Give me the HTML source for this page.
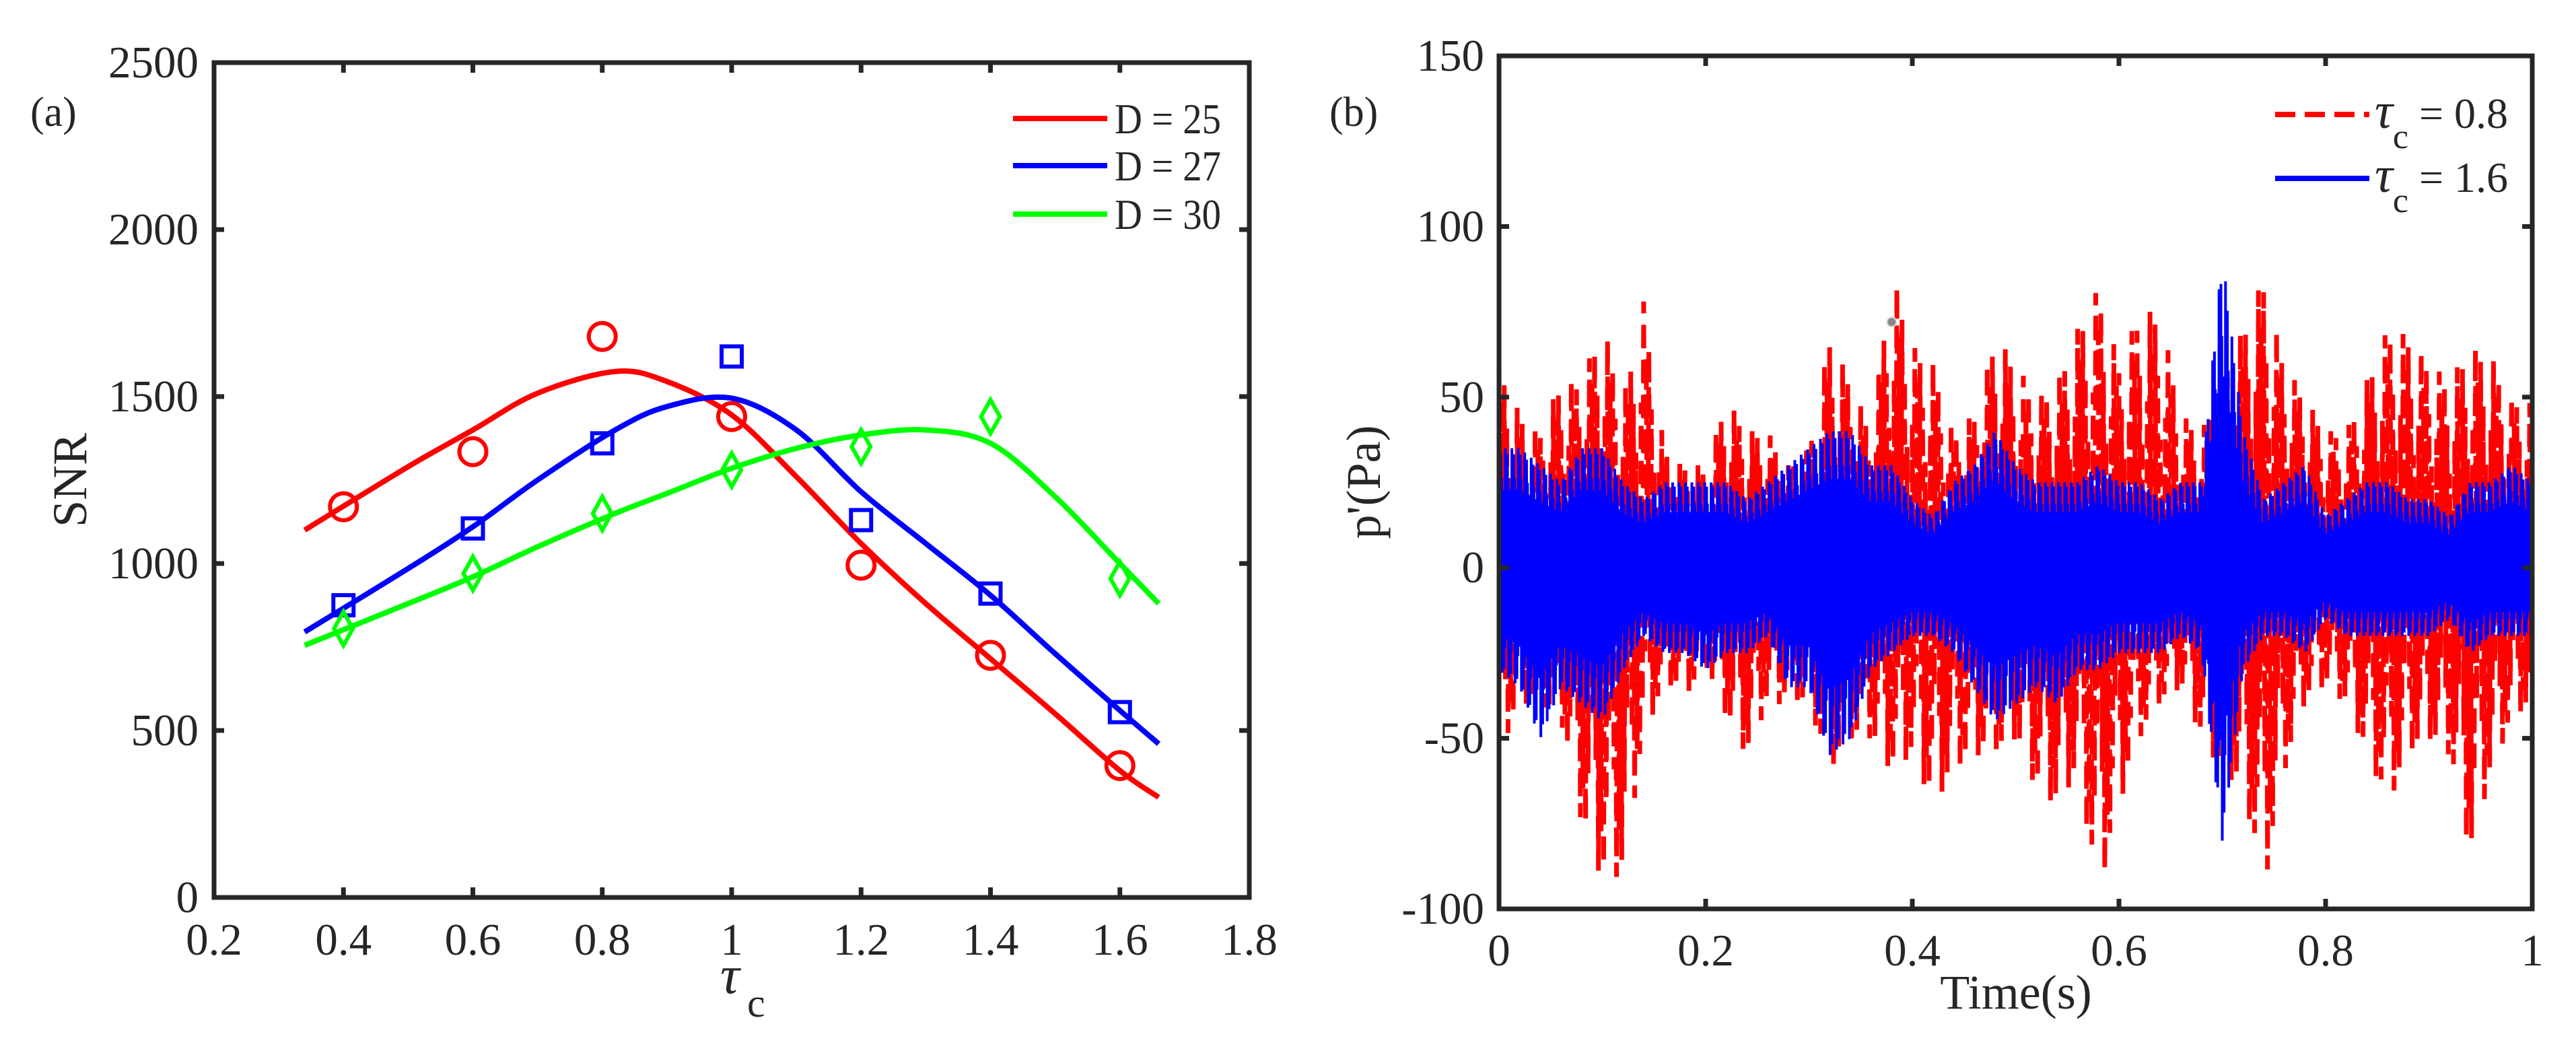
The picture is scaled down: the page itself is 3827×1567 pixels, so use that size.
<!DOCTYPE html>
<html><head><meta charset="utf-8"><style>
html,body{margin:0;padding:0;background:#fff;}
svg{display:block;}
text{font-family:"Liberation Serif",serif;fill:#262626;}
</style></head><body>
<svg id="fig" width="3827" height="1567" viewBox="0 0 3827 1567" xmlns="http://www.w3.org/2000/svg">
<rect width="3827" height="1567" fill="#fff"/>
<g id="pa"></g>
<g id="pb"></g>
</svg>
<script>
// ---------- Panel (a) data ----------
const aXTicks=[0.2,0.4,0.6,0.8,1,1.2,1.4,1.6,1.8];
const aXTickLabels=["0.2","0.4","0.6","0.8","1","1.2","1.4","1.6","1.8"];
const aYTicks=[0,500,1000,1500,2000,2500];
const aYTickLabels=["0","500","1000","1500","2000","2500"];
const markerX=[0.4,0.6,0.8,1.0,1.2,1.4,1.6];
const d25Points=[1170,1335,1680,1440,995,725,395];
const d27Points=[875,1105,1360,1620,1130,910,555];
const d30Points=[805,970,1150,1280,1350,1440,955];
const curveX=[0.34,0.5,0.6,0.7,0.82,0.9,1.0,1.1,1.2,1.3,1.4,1.5,1.6,1.66];
const d25Curve=[1100,1290,1400,1510,1575,1545,1445,1260,1060,880,715,550,380,300];
const d27Curve=[795,985,1110,1250,1400,1470,1495,1400,1215,1060,905,730,560,460];
const d30Curve=[755,880,960,1050,1150,1210,1285,1345,1385,1400,1360,1200,1000,880];
const legendA=["D = 25","D = 27","D = 30"];
// ---------- Panel (b) data ----------
const bXTicks=[0,0.2,0.4,0.6,0.8,1];
const bXTickLabels=["0","0.2","0.4","0.6","0.8","1"];
const bYTicks=[-100,-50,0,50,100,150];
const bYTickLabels=["-100","-50","0","50","100","150"];
const binT=[0,0.02,0.04,0.06,0.08,0.1,0.12,0.14,0.16,0.18,0.2,0.22,0.24,0.26,0.28,0.3,0.32,0.34,0.36,0.38,0.4,0.42,0.44,0.46,0.48,0.5,0.52,0.54,0.56,0.58,0.6,0.62,0.64,0.66,0.68,0.7,0.72,0.74,0.76,0.78,0.8,0.82,0.84,0.86,0.88,0.9,0.92,0.94,0.96,0.98,1.0];
const redUpper=[60,45,40,55,55,72,50,78,35,30,30,50,40,40,30,35,68,55,40,88,65,60,40,45,68,60,50,55,70,82,60,75,75,45,40,55,70,85,60,50,40,40,55,70,68,60,55,65,62,50,48];
const redLower=[-55,-40,-40,-45,-75,-92,-90,-50,-35,-38,-30,-45,-55,-40,-40,-40,-60,-50,-50,-60,-55,-70,-60,-55,-55,-50,-65,-70,-60,-97,-70,-50,-40,-35,-50,-60,-65,-95,-60,-40,-35,-40,-55,-70,-55,-50,-55,-85,-60,-45,-40];
const blueUpper=[35,35,30,25,35,35,25,20,25,25,25,25,20,25,30,35,40,40,30,30,20,15,25,30,40,30,25,25,25,30,25,25,20,25,25,92,40,20,25,30,15,20,25,25,20,20,15,25,25,30,25];
const blueLower=[-30,-35,-50,-35,-40,-45,-30,-20,-25,-25,-30,-25,-25,-20,-35,-35,-55,-50,-30,-25,-20,-20,-25,-35,-45,-40,-35,-40,-30,-30,-25,-25,-25,-20,-25,-80,-30,-20,-20,-25,-15,-20,-20,-20,-20,-20,-15,-25,-20,-20,-20];
const legendB=["0.8","1.6"];

const NS="http://www.w3.org/2000/svg";
function mk(parent,tag,attrs){const e=document.createElementNS(NS,tag);for(const k in attrs)e.setAttribute(k,attrs[k]);parent.appendChild(e);return e;}
function txt(parent,x,y,s,size,anchor){const t=mk(parent,'text',{x:x,y:y,'font-size':size,'text-anchor':anchor||'middle'});t.textContent=s;return t;}
function smooth(pts){let d=`M${pts[0][0]},${pts[0][1]}`;for(let i=0;i<pts.length-1;i++){const p0=pts[Math.max(0,i-1)],p1=pts[i],p2=pts[i+1],p3=pts[Math.min(pts.length-1,i+2)];const c1x=p1[0]+(p2[0]-p0[0])/6,c1y=p1[1]+(p2[1]-p0[1])/6,c2x=p2[0]-(p3[0]-p1[0])/6,c2y=p2[1]-(p3[1]-p1[1])/6;d+=` C${c1x},${c1y} ${c2x},${c2y} ${p2[0]},${p2[1]}`;}return d;}
const AX='#262626';

// ===== Panel A =====
const pa=document.getElementById('pa');
const aL=318,aR=1856,aT=93,aB=1333;
const ax=v=>aL+(v-0.2)/1.6*(aR-aL);
const ay=v=>aB-v/2500*(aB-aT);
const colors=['#ff0000','#0000ff','#00ff00'];
const curves=[d25Curve,d27Curve,d30Curve];
const pts=[d25Points,d27Points,d30Points];
curves.forEach((c,i)=>{
  const p=mk(pa,'path',{d:smooth(curveX.map((x,j)=>[ax(x),ay(c[j])])),fill:'none',stroke:colors[i],'stroke-width':8});
  
  
});
pts.forEach((arr,i)=>{
  arr.forEach((v,j)=>{
    const cx=ax(markerX[j]),cy=ay(v);let m;
    if(i===0) m=mk(pa,'circle',{cx:cx,cy:cy,r:20,fill:'none',stroke:colors[0],'stroke-width':6});
    else if(i===1) m=mk(pa,'rect',{x:cx-15,y:cy-15,width:30,height:30,fill:'none',stroke:colors[1],'stroke-width':6});
    else m=mk(pa,'path',{d:`M${cx},${cy-25} L${cx+14},${cy} L${cx},${cy+25} L${cx-14},${cy} Z`,fill:'none',stroke:colors[2],'stroke-width':6});
    
    
  });
});
mk(pa,'rect',{x:aL,y:aT,width:aR-aL,height:aB-aT,fill:'none',stroke:AX,'stroke-width':7,});
aXTicks.forEach((v,i)=>{const x=ax(v);
  mk(pa,'line',{x1:x,y1:aB,x2:x,y2:aB-15,stroke:AX,'stroke-width':7});
  mk(pa,'line',{x1:x,y1:aT,x2:x,y2:aT+15,stroke:AX,'stroke-width':7});
  const t=txt(pa,x,1418,aXTickLabels[i],67);
  
  
});
aYTicks.forEach((v,i)=>{const y=ay(v);
  mk(pa,'line',{x1:aL,y1:y,x2:aL+15,y2:y,stroke:AX,'stroke-width':7});
  mk(pa,'line',{x1:aR,y1:y,x2:aR-15,y2:y,stroke:AX,'stroke-width':7});
  const t=txt(pa,295,y+22,aYTickLabels[i],67,'end');
  
  
});
[176,246,318].forEach((y,i)=>{
  mk(pa,'line',{x1:1505,y1:y,x2:1645,y2:y,stroke:colors[i],'stroke-width':8,});
  const t=mk(pa,'text',{x:1656,y:y+22,'font-size':64,textLength:158,lengthAdjust:'spacingAndGlyphs'});
  t.textContent=legendA[i];
  
  
});
txt(pa,45,187,'(a)',62,'start');
const ylab=txt(pa,0,0,'SNR',72);ylab.setAttribute('transform','translate(128,713) rotate(-90)');

const xl=mk(pa,'text',{x:1070,y:1475,'font-size':80,'font-style':'italic',});xl.textContent='τ';
const xs=mk(pa,'text',{x:1110,y:1510,'font-size':60,});xs.textContent='c';

// ===== Panel B =====
const pb=document.getElementById('pb');
const bL=2227,bR=3762,bT=83,bB=1350;
const bx=v=>bL+v*(bR-bL);
const by=v=>bB-(v+100)/250*(bB-bT);
const pattern=[1,0.5,0.85,0.3,0.95,0.65,0.75];
function signal(up,lo,perBin){
  let d='';let k=0;
  for(let i=0;i<binT.length-1;i++){
    for(let s=0;s<perBin;s++){
      const f=s/perBin;const t=binT[i]+f*(binT[i+1]-binT[i]);
      const u=up[i]+(up[i+1]-up[i])*f, l=lo[i]+(lo[i+1]-lo[i])*f;
      const a=pattern[k%pattern.length];
      const v=(k%2===0)?u*a:l*a;
      d+=(d?' L':'M')+bx(t).toFixed(1)+','+by(v).toFixed(1);k++;
    }
  }
  return d;
}
const clip=mk(pb,'clipPath',{id:'bclip'});mk(clip,'rect',{x:bL,y:bT,width:bR-bL,height:bB-bT});
const red=mk(pb,'path',{d:signal(redUpper,redLower,16),fill:'none',stroke:'#ff0000','stroke-width':7,'stroke-dasharray':'34 18','clip-path':'url(#bclip)'});


const blue=mk(pb,'path',{d:signal(blueUpper,blueLower,45),fill:'none',stroke:'#0000ff','stroke-width':4,'clip-path':'url(#bclip)'});


mk(pb,'circle',{cx:bx(0.38),cy:by(72),r:7,fill:'#888',stroke:'#ddd','stroke-width':2,});
mk(pb,'rect',{x:bL,y:bT,width:bR-bL,height:bB-bT,fill:'none',stroke:AX,'stroke-width':7,});
bXTicks.forEach((v,i)=>{const x=bx(v);
  mk(pb,'line',{x1:x,y1:bB,x2:x,y2:bB-15,stroke:AX,'stroke-width':7});
  mk(pb,'line',{x1:x,y1:bT,x2:x,y2:bT+15,stroke:AX,'stroke-width':7});
  const t=txt(pb,x,1434,bXTickLabels[i],67);
  
  
});
bYTicks.forEach((v,i)=>{const y=by(v);
  mk(pb,'line',{x1:bL,y1:y,x2:bL+15,y2:y,stroke:AX,'stroke-width':7});
  mk(pb,'line',{x1:bR,y1:y,x2:bR-15,y2:y,stroke:AX,'stroke-width':7});
  const t=txt(pb,2205,y+22,bYTickLabels[i],67,'end');
  
  
});
[[170,'#ff0000','30 14'],[265,'#0000ff','none']].forEach((r,i)=>{
  mk(pb,'line',{x1:3380,y1:r[0],x2:3520,y2:r[0],stroke:r[1],'stroke-width':8,'stroke-dasharray':r[2],});
  const g=mk(pb,'text',{x:3528,y:r[0]+20,'font-size':64,});
  const t1=mk(g,'tspan',{'font-style':'italic','font-size':75});t1.textContent='τ';
  const t2=mk(g,'tspan',{dy:30,'font-size':52});t2.textContent='c';
  const t3=mk(g,'tspan',{dy:-30});t3.textContent=' = '+legendB[i];
});
txt(pb,1975,187,'(b)',62,'start');
const ylb=txt(pb,0,0,"p'(Pa)",72);ylb.setAttribute('transform','translate(2050,716) rotate(-90)');

txt(pb,2995,1498,'Time(s)',72);
</script>
</body></html>
